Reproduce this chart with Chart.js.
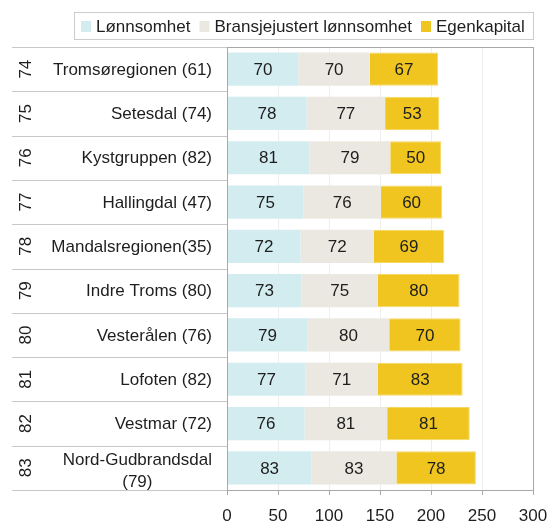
<!DOCTYPE html>
<html>
<head>
<meta charset="utf-8">
<script src="https://cdn.jsdelivr.net/npm/chart.js@4"></script>
<style>
  body { margin: 0; background: #fff; }
</style>
</head>
<body>
<canvas id="myChart" width="548" height="525"></canvas>
<script>
const regions = [
  'Tromsøregionen (61)', 'Setesdal (74)', 'Kystgruppen (82)', 'Hallingdal (47)',
  'Mandalsregionen(35)', 'Indre Troms (80)', 'Vesterålen (76)', 'Lofoten (82)',
  'Vestmar (72)', ['Nord-Gudbrandsdal', '(79)']
];
const ranks = [74, 75, 76, 77, 78, 79, 80, 81, 82, 83];
const lonnsomhet = [70, 78, 81, 75, 72, 73, 79, 77, 76, 83];
const bransjejustert = [70, 77, 79, 76, 72, 75, 80, 71, 81, 83];
const egenkapital = [67, 53, 50, 60, 69, 80, 70, 83, 81, 78];
const xTicks = [0, 50, 100, 150, 200, 250, 300];

const FONT = '"Liberation Sans", Arial, sans-serif';
const TEXT = '#1e1e1e';

// legend, rank numbers, category labels, row separators, frame, values
const extras = {
  id: 'extras',
  afterDraw(chart) {
    const ctx = chart.ctx;
    const area = chart.chartArea;
    const y = chart.scales.y;
    ctx.save();
    ctx.font = '17px ' + FONT;
    ctx.lineWidth = 1;

    // legend
    const items = chart.data.datasets;
    const widths = items.map(d => ctx.measureText(d.label).width);
    let lx = 81;
    ctx.textBaseline = 'middle';
    ctx.textAlign = 'left';
    items.forEach((d, i) => {
      ctx.fillStyle = d.backgroundColor;
      ctx.fillRect(lx, 21, 10, 11);
      ctx.fillStyle = TEXT;
      ctx.fillText(d.label, lx + 15, 27);
      lx += 15 + widths[i] + 9;
    });
    ctx.strokeStyle = '#cccccc';
    ctx.strokeRect(74.5, 12.5, 459, 27);

    // row separators in the label column
    ctx.strokeStyle = '#c8c8c8';
    for (let i = 0; i <= regions.length; i++) {
      const py = Math.round(y.getPixelForValue(i - 0.5)) + 0.5;
      ctx.beginPath();
      ctx.moveTo(12, py);
      ctx.lineTo(area.left, py);
      ctx.stroke();
    }

    // plot frame
    ctx.strokeStyle = '#a8a8a8';
    ctx.strokeRect(Math.round(area.left) + 0.5, Math.round(area.top) + 0.5,
      Math.round(area.right - area.left), Math.round(area.bottom - area.top));

    ctx.fillStyle = TEXT;

    // category labels, right aligned; wrapped label centred on itself
    regions.forEach((lab, i) => {
      const cy = y.getPixelForValue(i);
      if (Array.isArray(lab)) {
        const w = Math.max(...lab.map(s => ctx.measureText(s).width));
        ctx.textAlign = 'center';
        lab.forEach((s, k) => {
          ctx.fillText(s, 212 - w / 2, cy + 3 + (k - (lab.length - 1) / 2) * 22);
        });
      } else {
        ctx.textAlign = 'right';
        ctx.fillText(lab, 212, cy + 1);
      }
    });

    // rank numbers, rotated
    ctx.textAlign = 'center';
    ranks.forEach((r, i) => {
      ctx.save();
      ctx.translate(26, y.getPixelForValue(i));
      ctx.rotate(-Math.PI / 2);
      ctx.fillText(String(r), 0, 0);
      ctx.restore();
    });

    // values inside segments
    items.forEach((ds, di) => {
      const meta = chart.getDatasetMeta(di);
      meta.data.forEach((bar, i) => {
        const cx = (bar.x + bar.base) / 2;
        ctx.fillText(String(ds.data[i]), cx, bar.y + 1);
      });
    });
    ctx.restore();
  }
};

const ctx = document.getElementById('myChart').getContext('2d');
const myChart = new Chart(ctx, {
  type: 'bar',
  data: {
    labels: regions,
    datasets: [
      {
        label: 'Lønnsomhet',
        data: lonnsomhet,
        backgroundColor: '#d3ecf0',
        borderWidth: 0
      },
      {
        label: 'Bransjejustert lønnsomhet',
        data: bransjejustert,
        backgroundColor: '#ebe8e1',
        borderWidth: 0
      },
      {
        label: 'Egenkapital',
        data: egenkapital,
        backgroundColor: '#f0c520',
        borderColor: '#f6d860',
        borderWidth: 1
      }
    ]
  },
  options: {
    indexAxis: 'y',
    responsive: false,
    animation: false,
    layout: { padding: { top: 47, right: 15, left: 0, bottom: 0 } },
    datasets: {
      bar: { categoryPercentage: 1, barPercentage: 0.75 }
    },
    scales: {
      x: {
        stacked: true,
        min: 0,
        max: 300,
        afterBuildTicks: axis => { axis.ticks = xTicks.map(v => ({ value: v })); },
        afterFit: axis => {
          axis.height = 35;
          axis.paddingRight = 0;
          axis.paddingLeft = 0;
        },
        border: { display: true, color: '#a8a8a8' },
        grid: { color: '#eeeeee', tickColor: '#a8a8a8', tickLength: 5 },
        ticks: { color: TEXT, font: { family: FONT, size: 17, lineHeight: 1 }, padding: 13, maxRotation: 0 }
      },
      y: {
        stacked: true,
        afterFit: axis => { axis.width = 227; },
        border: { display: false },
        grid: { display: false, drawTicks: false },
        ticks: { display: false }
      }
    },
    plugins: {
      legend: { display: false },
      tooltip: { enabled: false }
    }
  },
  plugins: [extras]
});
</script>
</body>
</html>
